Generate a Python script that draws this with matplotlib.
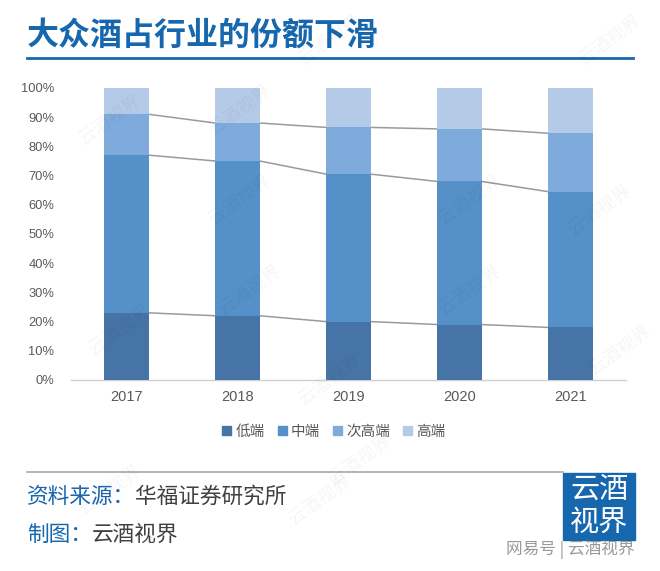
import matplotlib
matplotlib.use("Agg")
import matplotlib.pyplot as plt
from matplotlib.patches import Rectangle
from matplotlib.lines import Line2D
import numpy as np

plt.rcParams['font.family'] = ['Noto Sans CJK SC', 'DejaVu Sans']

years = ['2017', '2018', '2019', '2020', '2021']
series_names = ['低端', '中端', '次高端', '高端']
low = [23, 22, 20, 19, 18]
mid = [54, 53, 50.5, 49, 46.5]
subhigh = [14, 13, 16, 18, 20]
high = [9, 12, 13.5, 14, 15.5]
colors = ['#4674A6', '#5590C8', '#7FAADC', '#B5CAE7']

title = '大众酒占行业的份额下滑'
source_label = '资料来源：'
source_text = '华福证券研究所'
maker_label = '制图：'
maker_text = '云酒视界'

W, H = 660, 571
fig = plt.figure(figsize=(W / 100, H / 100), dpi=100)

def fx(px):
    return px / W

def fy(py):
    return 1 - py / H

ax = fig.add_axes([fx(71), fy(380), fx(626) - fx(71), fy(88) - fy(380)])
data = np.array([low, mid, subhigh, high]) / 100.0
x = np.arange(len(years))
bw = 0.40
bottom = np.zeros(len(years))
for i, name in enumerate(series_names):
    ax.bar(x, data[i], bw, bottom=bottom, color=colors[i], label=name, zorder=3)
    bottom = bottom + data[i]

# series lines (Excel style) between bar tops
cum = np.cumsum(data, axis=0)
for lvl in range(3):
    for j in range(len(years) - 1):
        ax.plot([x[j] + bw / 2, x[j + 1] - bw / 2], [cum[lvl, j], cum[lvl, j + 1]],
                color='#9a9a9a', lw=1.1, zorder=2)

ax.set_xlim(-0.5, len(years) - 0.5)
ax.set_ylim(0, 1.0)
ax.set_yticks(np.arange(0, 1.01, 0.1))
ax.set_yticklabels([f'{int(round(v * 100))}%' for v in np.arange(0, 1.01, 0.1)],
                   fontsize=9.3, color='#595959', family=['Liberation Sans', 'DejaVu Sans'])
ax.set_xticks(x)
ax.set_xticklabels(years, fontsize=10.5, color='#595959', family=['Liberation Sans', 'DejaVu Sans'])
ax.tick_params(axis='both', length=0)
ax.tick_params(axis='y', pad=12)
ax.tick_params(axis='x', pad=7)
for s in ['top', 'right', 'left']:
    ax.spines[s].set_visible(False)
ax.spines['bottom'].set_color('#d0d0d0')
ax.spines['bottom'].set_linewidth(1)

leg = fig.legend(handles=[Rectangle((0, 0), 1, 1, color=c) for c in colors], labels=series_names,
                 loc='center', bbox_to_anchor=(fx(334), fy(432)), ncol=4, frameon=False,
                 fontsize=10.5, handlelength=0.6, handleheight=0.6, handletextpad=0.3,
                 columnspacing=0.9, labelcolor='#595959')

# title
fig.text(fx(27), fy(36), title, fontsize=23, fontweight='bold', color='#1767AE',
         ha='left', va='center')
fig.add_artist(Line2D([fx(27), fx(633)], [fy(58), fy(58)], color='#1767AE', lw=2))

# bottom separator
fig.add_artist(Line2D([fx(27), fx(563)], [fy(472), fy(472)], color='#a8a8a8', lw=1.2))

# source lines
t1 = fig.text(fx(27), fy(497), source_label, fontsize=15.6, color='#1767AE', ha='left', va='center')
fig.canvas.draw()
bb = t1.get_window_extent()
fig.text(bb.x1 / W, fy(497), source_text, fontsize=15.6, color='#404040', ha='left', va='center')
t2 = fig.text(fx(27), fy(535), maker_label, fontsize=15.6, color='#1767AE', ha='left', va='center')
bb2 = t2.get_window_extent()
fig.text(bb2.x1 / W, fy(535), maker_text, fontsize=15.6, color='#404040', ha='left', va='center')

# logo
fig.add_artist(Rectangle((fx(563), fy(540)), fx(635) - fx(563), fy(473) - fy(540),
                         transform=fig.transFigure, color='#1767AE'))
fig.text(fx(599), fy(490), '云酒', fontsize=21, color='white', ha='center', va='center')
fig.text(fx(599), fy(523), '视界', fontsize=21, color='white', ha='center', va='center')
fig.text(fx(635), fy(550), '网易号 | 云酒视界', fontsize=12, color='#9a9a9a', ha='right', va='center')

# faint watermarks
wm_pos = [(330, 40), (610, 40), (110, 120), (240, 200), (470, 200), (120, 330), (250, 290),
          (470, 290), (600, 210), (240, 110), (360, 460), (620, 350), (330, 380), (110, 490), (320, 500)]
for (px, py) in wm_pos:
    fig.text(fx(px), fy(py), '云酒视界', fontsize=13, color='#000000', alpha=0.04,
             rotation=35, ha='center', va='center')

fig.savefig('out.png', dpi=100)
